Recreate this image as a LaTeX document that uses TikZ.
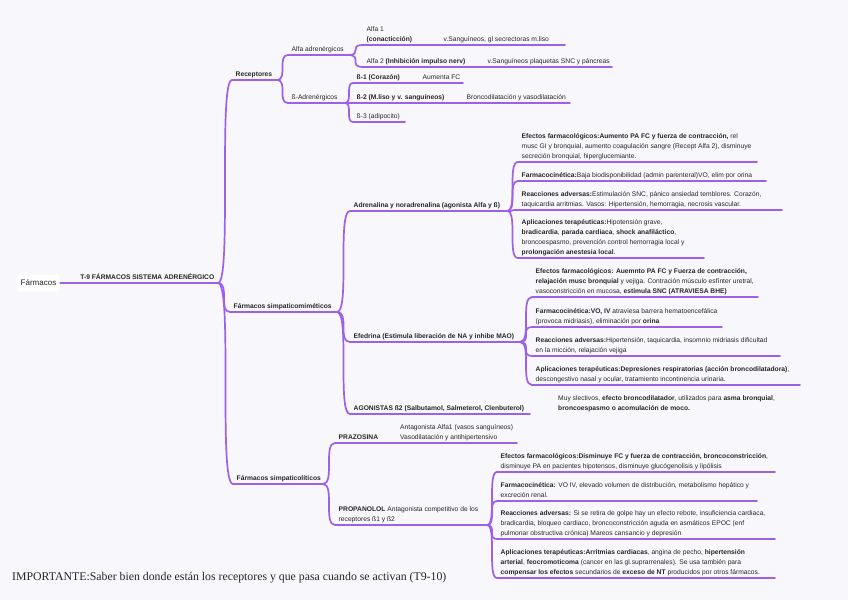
\documentclass[tikz,border=0pt]{standalone}
\usepackage{fontspec}
\setmainfont{Liberation Sans}
\newfontfamily\notefont{Liberation Serif}
\usepackage{xcolor}
\definecolor{mmpurple}{RGB}{157,96,235}
\definecolor{mmpaper}{RGB}{248,248,252}
\definecolor{mmtext}{RGB}{38,38,38}
\tikzset{
  topic/.style  ={anchor=south west, inner xsep=3.5pt, inner ysep=1.8pt,
                  text depth=1.2pt, align=left, text=mmtext,
                  font=\fontsize{6.7}{10}\selectfont},
  hub/.style    ={topic, font=\fontsize{6.7}{10}\selectfont\bfseries},
  rootbox/.style={rectangle, rounded corners=3pt, fill=white, text=mmtext,
                  minimum width=43pt, minimum height=17pt,
                  font=\fontsize{8}{10}\selectfont},
  stem/.style   ={draw=mmpurple, line width=1.7pt, line cap=round},
  twig/.style   ={stem, to path={.. controls (\tikztostart -| \tikztotarget)
                  and (\tikztotarget -| \tikztostart) .. (\tikztotarget)}},
  note/.style   ={anchor=base west, inner sep=0pt, text=mmtext,
                  font=\notefont\fontsize{11.8}{12}\selectfont}
}

\begin{document}
\begin{tikzpicture}[x=1pt,y=-1pt]
  \fill[mmpaper] (0,0) rectangle (848,600);
  \useasboundingbox (0,0) rectangle (848,600);

  % ---------------- Root ----------------
  \node[rootbox] (root) at (38.5,283) {Fármacos};
  \node[hub, anchor=south east] (t9) at (218,283) {T-9 FÁRMACOS SISTEMA ADRENÉRGICO};
  \draw[stem] (root.east) -- (t9.south east);

  % ---------------- Receptores ----------------
  \node[hub] (rec) at (232,80) {Receptores};
  \draw[stem] (rec.south west) -- ++(45,0) coordinate (rec-e);
  \draw[twig] (t9.south east) to (rec.south west);

  \node[topic] (alfa) at (288,55) {Alfa adrenérgicos};
  \draw[stem] (alfa.south west) -- ++(60,0) coordinate (alfa-e);
  \draw[twig] (rec-e) to (alfa.south west);
  \node[topic] (a1) at (363,45) {Alfa 1\\\textbf{(conacticción)}};
  \draw[stem] (a1.south west) -- ++(77,0) coordinate (a1-e);
  \draw[twig] (alfa-e) to (a1.south west);
  \node[topic] (a1x) at (a1-e) {v.Sanguíneos, gl secrectoras m.liso};
  \draw[stem] (a1x.south west) -- ++(125,0);
  \node[topic] (a2) at (363,67) {Alfa 2 \textbf{(Inhibición impulso nerv)}};
  \draw[stem] (a2.south west) -- ++(121,0) coordinate (a2-e);
  \draw[twig] (alfa-e) to (a2.south west);
  \node[topic] (a2x) at (a2-e) {v.Sanguíneos plaquetas SNC y páncreas};
  \draw[stem] (a2x.south west) -- ++(128,0);

  \node[topic] (beta) at (288,103) {ß-Adrenérgicos};
  \draw[stem] (beta.south west) -- ++(57,0) coordinate (beta-e);
  \draw[twig] (rec-e) to (beta.south west);
  \node[hub] (b1) at (353,83) {ß-1 (Corazón)};
  \draw[stem] (b1.south west) -- ++(66,0) coordinate (b1-e);
  \draw[twig] (beta-e) to (b1.south west);
  \node[topic] (b1x) at (b1-e) {Aumenta FC};
  \draw[stem] (b1x.south west) -- ++(44,0);
  \node[hub] (b2) at (353,103) {ß-2 (M.liso y v. sanguíneos)};
  \draw[stem] (b2.south west) -- ++(110,0) coordinate (b2-e);
  \draw[twig] (beta-e) to (b2.south west);
  \node[topic] (b2x) at (b2-e) {Broncodilatación y vasodilatación};
  \draw[stem] (b2x.south west) -- ++(107,0);
  \node[topic] (b3) at (353,122) {ß-3 (adipocito)};
  \draw[stem] (b3.south west) -- ++(52,0);
  \draw[twig] (beta-e) to (b3.south west);

  % ---------------- Simpaticomiméticos ----------------
  \node[hub] (sim) at (230,312) {Fármacos simpaticomiméticos};
  \draw[stem] (sim.south west) -- ++(107,0) coordinate (sim-e);
  \draw[twig] (t9.south east) to (sim.south west);

  \node[hub] (adr) at (350,211) {Adrenalina y noradrenalina (agonista Alfa y ß)};
  \draw[stem] (adr.south west) -- ++(157,0) coordinate (adr-e);
  \draw[twig] (sim-e) to (adr.south west);
  \node[topic] (ae) at (518,162) {\textbf{Efectos farmacológicos:Aumento PA FC y fuerza de contracción,} rel\\
    musc GI y bronquial, aumento coagulación sangre (Recept Alfa 2), disminuye\\
    secreción bronquial, hiperglucemiante.};
  \draw[stem] (ae.south west) -- ++(239,0);
  \draw[twig] (adr-e) to (ae.south west);
  \node[topic] (af) at (518,181) {\textbf{Farmacocinética:}Baja biodisponibilidad (admin parenteral)VO, elim por orina};
  \draw[stem] (af.south west) -- ++(248,0);
  \draw[twig] (adr-e) to (af.south west);
  \node[topic] (ar) at (518,210) {\textbf{Reacciones adversas:}Estimulación SNC, pánico ansiedad temblores. Corazón,\\
    taquicardia arritmias. Vasos: Hipertensión, hemorragia, necrosis vascular.};
  \draw[stem] (ar.south west) -- ++(264,0);
  \draw[twig] (adr-e) to (ar.south west);
  \node[topic] (aa) at (518,258) {\textbf{Aplicaciones terapéuticas:}Hipotensión grave,\\
    \textbf{bradicardia}, \textbf{parada cardiaca}, \textbf{shock anafiláctico},\\
    broncoespasmo, prevención control hemorragia local y\\
    \textbf{prolongación anestesia local}.};
  \draw[stem] (aa.south west) -- ++(186,0);
  \draw[twig] (adr-e) to (aa.south west);

  \node[hub] (efe) at (350,342) {Efedrina (Estimula liberación de NA y inhibe MAO)};
  \draw[stem] (efe.south west) -- ++(170,0) coordinate (efe-e);
  \draw[twig] (sim-e) to (efe.south west);
  \node[topic] (ee) at (532,297) {\textbf{Efectos farmacológicos: Auemnto PA FC y Fuerza de contracción,}\\
    \textbf{relajación musc bronquial} y vejiga. Contración músculo esfínter uretral,\\
    vasoconstricción en mucosa, \textbf{estimula SNC (ATRAVIESA BHE)}};
  \draw[stem] (ee.south west) -- ++(226,0);
  \draw[twig] (efe-e) to (ee.south west);
  \node[topic] (ef) at (532,327) {\textbf{Farmacocinética:VO, IV} atraviesa barrera hematoencefálica\\
    (provoca midriasis), eliminación por \textbf{orina}};
  \draw[stem] (ef.south west) -- ++(190,0);
  \draw[twig] (efe-e) to (ef.south west);
  \node[topic] (er) at (532,356) {\textbf{Reacciones adversas:}Hipertensión, taquicardia, insomnio midriasis dificultad\\
    en la micción, relajación vejiga};
  \draw[stem] (er.south west) -- ++(248,0);
  \draw[twig] (efe-e) to (er.south west);
  \node[topic] (ea) at (532,385) {\textbf{Aplicaciones terapéuticas:Depresiones respiratorias (acción broncodilatadora)},\\
    descongestivo nasal y ocular, tratamiento incontinencia urinaria.};
  \draw[stem] (ea.south west) -- ++(268,0);
  \draw[twig] (efe-e) to (ea.south west);

  \node[hub] (ago) at (350,414) {AGONISTAS ß2 (Salbutamol, Salmeterol, Clenbuterol)};
  \draw[stem] (ago.south west) -- ++(180,0);
  \draw[twig] (sim-e) to (ago.south west);
  \node[topic] (agox) at (554.5,414) {Muy slectivos, \textbf{efecto broncodilatador}, utilizados para \textbf{asma bronquial},\\
    \textbf{broncoespasmo o acomulación de moco.}};

  % ---------------- Simpaticolíticos ----------------
  \node[hub] (lit) at (233,484) {Fármacos simpaticolíticos};
  \draw[stem] (lit.south west) -- ++(90,0) coordinate (lit-e);
  \draw[twig] (t9.south east) to (lit.south west);

  \node[hub] (pra) at (335,443) {PRAZOSINA};
  \draw[stem] (pra.south west) -- ++(61.5,0) coordinate (pra-e);
  \draw[twig] (lit-e) to (pra.south west);
  \node[topic] (prax) at (pra-e) {Antagonista Alfa1 (vasos sanguíneos)\\
    Vasodilatación y antihipertensivo};
  \draw[stem] (prax.south west) -- ++(120.5,0);

  \node[topic] (pro) at (335,525) {\textbf{PROPANOLOL} Antagonista competitivo de los\\
    receptores ß1 y ß2};
  \draw[stem] (pro.south west) -- ++(152,0) coordinate (pro-e);
  \draw[twig] (lit-e) to (pro.south west);
  \node[topic] (pe) at (497,472) {\textbf{Efectos farmacológicos:Disminuye FC y fuerza de contracción, broncoconstricción},\\
    disminuye PA en pacientes hipotensos, disminuye glucógenolisis y lipólisis};
  \draw[stem] (pe.south west) -- ++(278,0);
  \draw[twig] (pro-e) to (pe.south west);
  \node[topic] (pf) at (497,501) {\textbf{Farmacocinética:} VO IV, elevado volumen de distribución, metabolismo hepático y\\
    excreción renal.};
  \draw[stem] (pf.south west) -- ++(260,0);
  \draw[twig] (pro-e) to (pf.south west);
  \node[topic] (pr) at (497,539) {\textbf{Reacciones adversas:} Si se retira de golpe hay un efecto rebote, insuficiencia cardiaca,\\
    bradicardia, bloqueo cardiaco, broncoconstricción aguda en asmáticos EPOC (enf\\
    pulmonar obstructiva crónica) Mareos cansancio y depresión};
  \draw[stem] (pr.south west) -- ++(278,0);
  \draw[twig] (pro-e) to (pr.south west);
  \node[topic] (pa) at (497,578) {\textbf{Aplicaciones terapéuticas:Arritmias cardiacas}, angina de pecho, \textbf{hipertensión}\\
    \textbf{arterial}, \textbf{feocromoticoma} (cancer en las gl.suprarrenales). Se usa también para\\
    \textbf{compensar los efectos} secundarios de \textbf{exceso de NT} producidos por otros fármacos.};
  \draw[stem] (pa.south west) -- ++(278,0);
  \draw[twig] (pro-e) to (pa.south west);

  % ---------------- Note ----------------
  \node[note] (imp) at (12,580) {IMPORTANTE:Saber bien donde están los receptores y que pasa cuando se activan (T9-10)};
\end{tikzpicture}
\end{document}
